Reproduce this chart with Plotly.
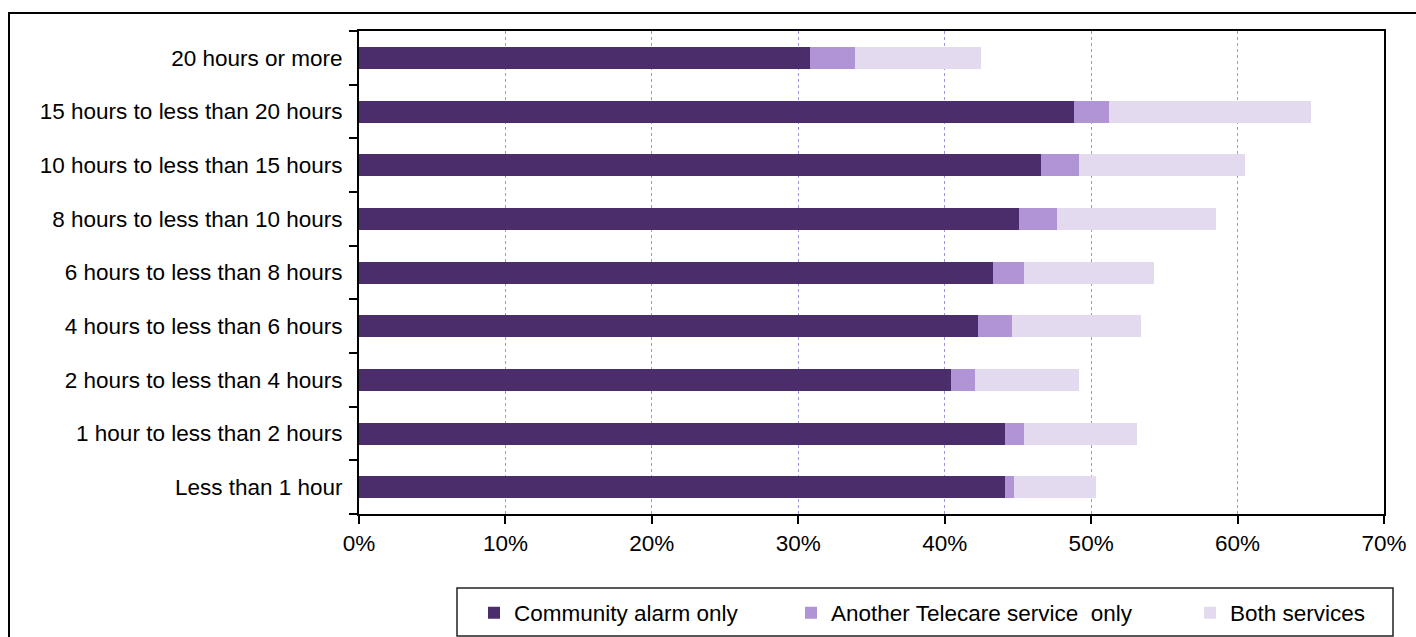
import plotly.graph_objects as go

categories = [
    "Less than 1 hour",
    "1 hour to less than 2 hours",
    "2 hours to less than 4 hours",
    "4 hours to less than 6 hours",
    "6 hours to less than 8 hours",
    "8 hours to less than 10 hours",
    "10 hours to less than 15 hours",
    "15 hours to less than 20 hours",
    "20 hours or more",
]
community_alarm_only = [44.1, 44.1, 40.4, 42.3, 43.3, 45.1, 46.6, 48.8, 30.8]
another_telecare_only = [0.6, 1.3, 1.7, 2.3, 2.1, 2.6, 2.6, 2.4, 3.1]
both_services = [5.6, 7.7, 7.1, 8.8, 8.9, 10.8, 11.3, 13.8, 8.6]

series_names = ["Community alarm only", "Another Telecare service\u00a0\u00a0only", "Both services"]
series_colors = ["#4B2D6B", "#B094D5", "#E3DAF0"]
x_tickvals = [0, 10, 20, 30, 40, 50, 60, 70]
x_ticktext = ["0%", "10%", "20%", "30%", "40%", "50%", "60%", "70%"]

W, H = 1416, 637
L, R, T, B = 359, 1384, 31, 514
pw, ph = R - L, B - T

def px(x):
    return (x - L) / pw

def py(y):
    return (B - y) / ph

fig = go.Figure()
legend_ids = ["legend", "legend2", "legend3"]
for vals, name, col, lg in zip(
    [community_alarm_only, another_telecare_only, both_services],
    series_names, series_colors, legend_ids,
):
    fig.add_trace(go.Bar(
        y=categories, x=vals, orientation="h", name=name,
        marker=dict(color=col, line=dict(width=0)), legend=lg, showlegend=True,
    ))

font = dict(family="Liberation Sans, Arial, sans-serif", size=22.5, color="#000000")
legend_lefts = [474, 791, 1190]
legend_common = dict(
    orientation="h", yanchor="middle", xanchor="left", y=py(613),
    bgcolor="rgba(0,0,0,0)", borderwidth=0, font=font,
)
fig.update_layout(
    width=W, height=H,
    margin=dict(l=L, r=W - R, t=T, b=H - B, autoexpand=False),
    barmode="stack", bargap=0.59,
    plot_bgcolor="white", paper_bgcolor="white",
    font=font, showlegend=True,
    legend=dict(x=px(legend_lefts[0]), **legend_common),
    legend2=dict(x=px(legend_lefts[1]), **legend_common),
    legend3=dict(x=px(legend_lefts[2]), **legend_common),
    xaxis=dict(
        range=[0, 70], tickvals=x_tickvals, ticktext=x_ticktext,
        showgrid=True, gridcolor="#9a9ad2", griddash="dot", gridwidth=1,
        showline=True, linecolor="#000000", linewidth=2, mirror=True,
        ticks="outside", ticklen=8, tickcolor="#000000", tickwidth=2,
        zeroline=False, fixedrange=True,
    ),
    yaxis=dict(
        categoryorder="array", categoryarray=categories,
        tickson="boundaries", ticks="outside", ticklen=8, tickcolor="#000000", tickwidth=2,
        showline=True, linecolor="#000000", linewidth=2, mirror=True,
        showgrid=False, ticklabelstandoff=10, fixedrange=True,
    ),
    shapes=[
        dict(type="rect", xref="paper", yref="paper",
             x0=px(9), x1=px(1430), y0=py(13), y1=py(660),
             line=dict(color="#000000", width=2), fillcolor="rgba(0,0,0,0)", layer="below"),
        dict(type="rect", xref="paper", yref="paper",
             x0=px(457), x1=px(1393), y0=py(588), y1=py(636),
             line=dict(color="#222222", width=1.5), fillcolor="rgba(0,0,0,0)"),
    ],
)

fig.write_html(
    "out.html",
    config={"displayModeBar": False},
    post_script="document.body.style.margin='0px';document.body.style.padding='0px';",
)
